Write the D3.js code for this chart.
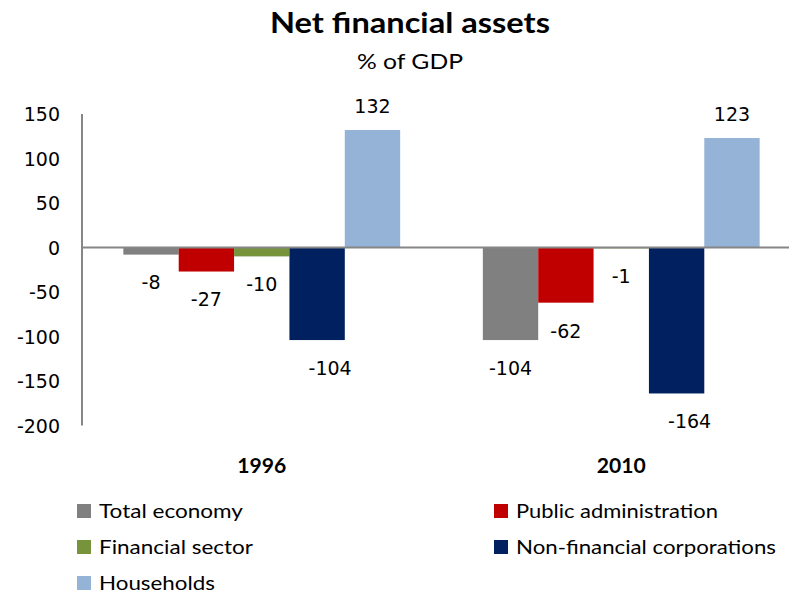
<!DOCTYPE html>
<html>
<head>
<meta charset="utf-8">
<script src="https://cdn.jsdelivr.net/npm/d3@7"></script>
<style>
  html, body { margin: 0; padding: 0; background: #fff; }
  svg { display: block; }
</style>
</head>
<body>
<svg id="chart" width="789" height="595"></svg>
<script>
// Net financial assets by sector, % of GDP
const years = ["1996", "2010"];
const series = ["Total economy", "Public administration", "Financial sector", "Non-financial corporations", "Households"];
const totalEconomy = [-8, -104];
const publicAdministration = [-27, -62];
const financialSector = [-10, -1];
const nonFinancialCorporations = [-104, -164];
const households = [132, 123];
const yTicks = [150, 100, 50, 0, -50, -100, -150, -200];

const seriesValues = [totalEconomy, publicAdministration, financialSector, nonFinancialCorporations, households];
const colors = ["#808080", "#C00000", "#77933C", "#002060", "#95B3D7"];

const svg = d3.select("#chart");
const W = 789, H = 595;

const textFont = "Lato, 'Open Sans', sans-serif";
const numFont = "'DejaVu Sans', Verdana, sans-serif";

// fit a text element to a given width
function fit(sel, w) {
  sel.attr("textLength", w).attr("lengthAdjust", "spacingAndGlyphs");
}

// Title
svg.append("text")
  .attr("x", 410).attr("y", 33)
  .attr("text-anchor", "middle")
  .attr("font-family", textFont).attr("font-weight", "bold")
  .attr("font-size", 28).attr("fill", "#000")
  .text("Net financial assets")
  .call(fit, 280);

svg.append("text")
  .attr("x", 410).attr("y", 69)
  .attr("text-anchor", "middle")
  .attr("font-family", textFont)
  .attr("font-size", 22).attr("fill", "#000")
  .text("% of GDP")
  .call(fit, 106);

// Scales
const x0 = d3.scaleBand().domain(years).range([82, 801]).paddingInner(0.23).paddingOuter(0.115);
const x1 = d3.scaleBand().domain(series).range([0, x0.bandwidth()]).padding(0);
const y = d3.scaleLinear().domain([-200, 150]).range([425.5, 114]);

// Y axis labels (no tick marks), plain hyphen for negatives
const yAxis = d3.axisLeft(y).tickValues(yTicks).tickSize(0).tickPadding(0).tickFormat(d => String(d));
const gy = svg.append("g").attr("transform", "translate(60,0)").call(yAxis);
gy.select(".domain").remove();
gy.selectAll("text")
  .attr("font-family", numFont).attr("font-size", 19).attr("fill", "#000")
  .attr("dy", "0.36em");

// Y axis line
svg.append("line")
  .attr("x1", 82).attr("x2", 82)
  .attr("y1", y(150)).attr("y2", y(-200))
  .attr("stroke", "#868686").attr("stroke-width", 2);

// Bars
const groups = svg.append("g").selectAll("g")
  .data(years)
  .join("g")
  .attr("transform", d => `translate(${x0(d)},0)`);

const cells = groups.selectAll("g.cell")
  .data((yr, i) => series.map((s, j) => ({ year: yr, series: s, idx: j, value: seriesValues[j][i] })))
  .join("g").attr("class", "cell");

cells.append("rect")
  .attr("x", d => x1(d.series))
  .attr("width", x1.bandwidth())
  .attr("y", d => y(Math.max(0, d.value)))
  .attr("height", d => Math.abs(y(d.value) - y(0)))
  .attr("fill", d => colors[d.idx]);

// Value labels; the corporations labels sit a little to the right of their bars
const labelShift = { "Non-financial corporations": 13 };
cells.append("text")
  .attr("x", d => x1(d.series) + x1.bandwidth() / 2 + (labelShift[d.series] || 0))
  .attr("y", d => d.value >= 0 ? y(d.value) - 24 : y(d.value) + 28)
  .attr("dy", "0.36em")
  .attr("text-anchor", "middle")
  .attr("font-family", numFont).attr("font-size", 19).attr("fill", "#000")
  .text(d => d.value);

// Zero line
svg.append("line")
  .attr("x1", 82).attr("x2", W)
  .attr("y1", y(0)).attr("y2", y(0))
  .attr("stroke", "#868686").attr("stroke-width", 2);

// Category labels
svg.append("g").selectAll("text")
  .data(years)
  .join("text")
  .attr("x", d => x0(d) + x0.bandwidth() / 2)
  .attr("y", 473)
  .attr("text-anchor", "middle")
  .attr("font-family", textFont).attr("font-weight", "bold")
  .attr("font-size", 20).attr("fill", "#000")
  .text(d => d)
  .call(fit, 49);

// Legend
const legendPos = [
  { x: 77, y: 518 }, { x: 494, y: 518 },
  { x: 77, y: 554 }, { x: 494, y: 554 },
  { x: 77, y: 590 }
];
const legendWidths = [144, 202, 154, 260, 116];
const leg = svg.append("g").selectAll("g")
  .data(series)
  .join("g")
  .attr("transform", (d, i) => `translate(${legendPos[i].x},${legendPos[i].y})`);
leg.append("rect")
  .attr("x", 0).attr("y", -14)
  .attr("width", 14).attr("height", 14)
  .attr("fill", (d, i) => colors[i]);
leg.append("text")
  .attr("x", 22).attr("y", 0)
  .attr("font-family", textFont)
  .attr("font-size", 20).attr("fill", "#000")
  .text(d => d)
  .each(function(d, i) { d3.select(this).call(fit, legendWidths[i]); });
</script>
</body>
</html>
